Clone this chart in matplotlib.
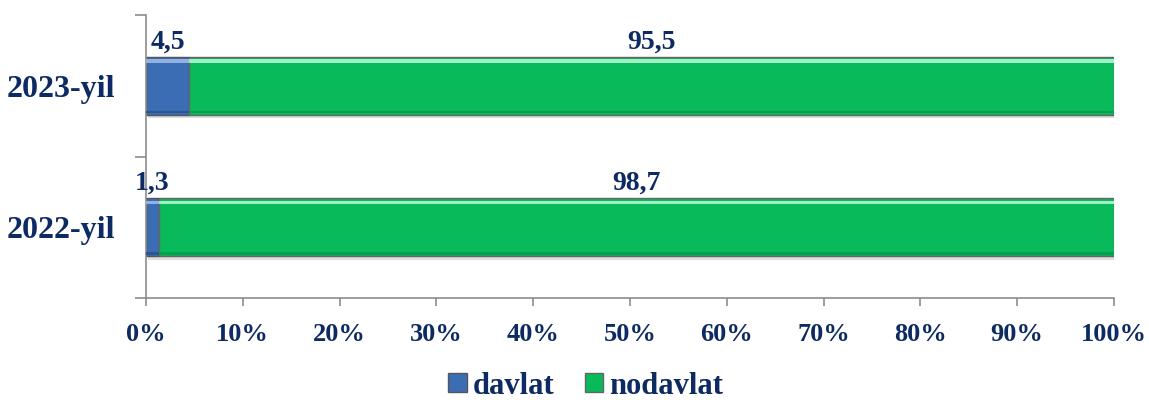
import matplotlib
matplotlib.use("Agg")
import matplotlib.pyplot as plt
import numpy as np

years = ["2022-yil", "2023-yil"]
davlat = [1.3, 4.5]
nodavlat = [98.7, 95.5]
xticks = [0, 10, 20, 30, 40, 50, 60, 70, 80, 90, 100]

navy = "#0E2A63"
blue = "#3B6DB5"
green = "#08BA5A"
axis_gray = "#8C8C8C"

plt.rcParams["font.family"] = ["Liberation Serif", "DejaVu Serif"]
plt.rcParams["font.weight"] = "bold"

fig = plt.figure(figsize=(11.49, 4.0), dpi=100)
ax = fig.add_axes([0.127, 0.255, 0.8425, 0.7075])

y = np.arange(len(years))
h = 0.41

# soft shadow under bars
ax.barh(y - 0.025, np.add(davlat, nodavlat), height=h, left=0.2, color="#DDDDDD",
        edgecolor="none", zorder=1)

b1 = ax.barh(y, davlat, height=h, color=blue, edgecolor="#555555", linewidth=1.0,
             label="davlat", zorder=2)
b2 = ax.barh(y, nodavlat, height=h, left=davlat, color=green, edgecolor="#666666",
             linewidth=1.0, label="nodavlat", zorder=2)

# bevel highlights
ax.barh(y + h / 2 - 0.03, davlat, height=0.025, color="#A9C6EE", edgecolor="none",
        alpha=0.8, zorder=3)
ax.barh(y + h / 2 - 0.03, nodavlat, height=0.025, left=davlat, color="#C8FBE2",
        edgecolor="none", alpha=0.8, zorder=3)
ax.barh(y - h / 2 + 0.02, davlat, height=0.02, color="#2C5591", edgecolor="none", zorder=3)
ax.barh(y - h / 2 + 0.02, nodavlat, height=0.02, left=davlat, color="#07A04F",
        edgecolor="none", zorder=3)

for i in range(len(years)):
    ax.text(davlat[i] / 2, y[i] + h / 2 + 0.015, f"{davlat[i]:.1f}".replace(".", ","),
            ha="center", va="bottom", fontsize=20, fontweight="bold", color=navy)
    ax.text(davlat[i] + nodavlat[i] / 2, y[i] + h / 2 + 0.015,
            f"{nodavlat[i]:.1f}".replace(".", ","),
            ha="center", va="bottom", fontsize=20, fontweight="bold", color=navy)

ax.set_xlim(0, 100)
ax.set_ylim(-0.5, len(years) - 0.5)
ax.set_xticks(xticks)
ax.set_xticklabels([f"{t}%" for t in xticks], fontsize=19, fontweight="bold", color=navy)
ax.set_yticks(y)
ax.set_yticklabels(years, fontsize=23, fontweight="bold", color=navy)
ax.set_yticks(np.arange(-0.5, len(years), 1.0), minor=True)
ax.tick_params(axis="y", which="major", length=0, pad=22)
ax.tick_params(axis="y", which="minor", length=8, color=axis_gray, width=1.2)
ax.tick_params(axis="x", length=6, color=axis_gray, width=1.2, pad=12)

for s in ["top", "right"]:
    ax.spines[s].set_visible(False)
for s in ["left", "bottom"]:
    ax.spines[s].set_color(axis_gray)
    ax.spines[s].set_linewidth(1.2)

fig.legend(handles=[b1, b2], labels=["davlat", "nodavlat"], loc="lower center",
           bbox_to_anchor=(0.51, -0.07), ncol=2, frameon=False, handlelength=0.6,
           handleheight=0.6, handletextpad=0.2, columnspacing=1.0,
           prop={"size": 22, "weight": "bold"}, labelcolor=navy)

fig.savefig("out.png", dpi=100)
